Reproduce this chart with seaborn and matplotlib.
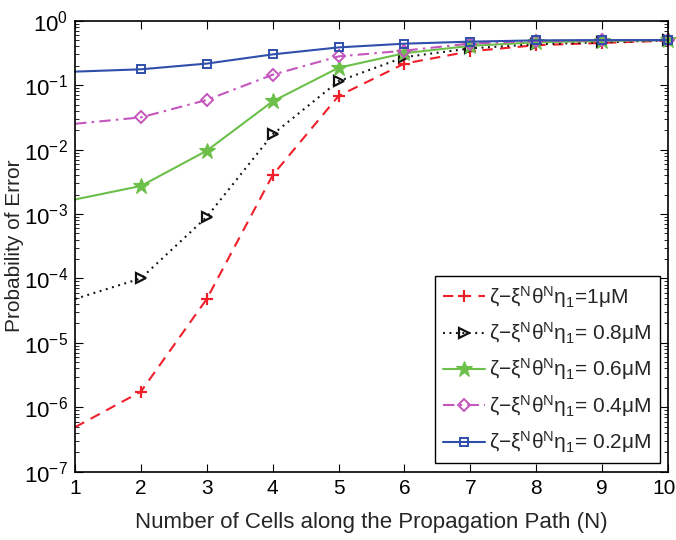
import numpy as np
import pandas as pd
import seaborn as sns
import matplotlib
matplotlib.use("Agg")
import matplotlib.pyplot as plt
from matplotlib.ticker import LogLocator, NullFormatter
from matplotlib.transforms import ScaledTranslation

# ---- data ----
N = [1, 2, 3, 4, 5, 6, 7, 8, 9, 10]
p_1uM = [4.9e-7, 1.75e-6, 4.8e-5, 4.0e-3, 0.068, 0.216, 0.335, 0.417, 0.452, 0.49]
p_08uM = [4.8e-5, 1.0e-4, 9.0e-4, 0.0172, 0.115, 0.272, 0.372, 0.432, 0.462, 0.495]
p_06uM = [1.68e-3, 2.72e-3, 9.6e-3, 0.056, 0.186, 0.313, 0.407, 0.462, 0.484, 0.50]
p_04uM = [0.0251, 0.0316, 0.0589, 0.145, 0.279, 0.343, 0.442, 0.484, 0.495, 0.50]
p_02uM = [0.162, 0.176, 0.216, 0.30, 0.385, 0.44, 0.473, 0.495, 0.50, 0.50]
labels = ["1μM", " 0.8μM", " 0.6μM", " 0.4μM", " 0.2μM"]
xlabel = "Number of Cells along the Propagation Path (N)"
ylabel = "Probability of Error"

sns.set_style("ticks")
plt.rcParams["font.family"] = ["Liberation Sans", "DejaVu Sans"]
plt.rcParams["mathtext.fontset"] = "custom"
plt.rcParams["mathtext.rm"] = "Liberation Sans"
plt.rcParams["mathtext.it"] = "Liberation Sans:italic"
plt.rcParams["mathtext.bf"] = "Liberation Sans:bold"

FS = 15

fig = plt.figure(figsize=(6.76, 5.40), dpi=100)
ax = fig.add_axes([75 / 676, 1 - 471.7 / 540, (668 - 75) / 676, (471.7 - 20.7) / 540])

series = [
    (p_1uM, labels[0], dict(color="#f0202a", linestyle=(0, (5, 3.5)), marker="+", ms=8, mew=1.6, mfc="#f0202a")),
    (p_08uM, labels[1], dict(color="#111111", linestyle=(0, (0.9, 2.2)), marker=">", ms=7, mew=1.6, mfc="none")),
    (p_06uM, labels[2], dict(color="#6cc04a", linestyle="-", marker="*", ms=12, mew=0.8, mfc="#6cc04a")),
    (p_04uM, labels[3], dict(color="#c456bd", linestyle=(0, (5.5, 2.5, 1.2, 2.5)), marker="D", ms=6, mew=1.4, mfc="none")),
    (p_02uM, labels[4], dict(color="#2f4faa", linestyle="-", marker="s", ms=6, mew=1.4, mfc="none")),
]

prefix = r"ζ−ξ$^{\mathrm{N}}$θ$^{\mathrm{N}}$η$_{\mathrm{1}}$="
for vals, lab, st in series:
    df = pd.DataFrame({"N": N, "P": vals})
    sns.lineplot(data=df, x="N", y="P", ax=ax, label=prefix + lab,
                 color=st["color"], linestyle=st["linestyle"], marker=st["marker"],
                 markersize=st["ms"], markeredgewidth=st["mew"],
                 markerfacecolor=st["mfc"], markeredgecolor=st["color"],
                 markevery=slice(1, None), linewidth=1.5, clip_on=False)

ax.set_yscale("log")
ax.set_xlim(1, 10)
ax.set_ylim(1e-7, 1)
ax.set_xticks(N)
ax.set_yticks([10.0 ** k for k in range(-7, 1)])
ax.yaxis.set_minor_locator(LogLocator(base=10, subs=np.arange(2, 10), numticks=50))
ax.yaxis.set_minor_formatter(NullFormatter())

ax.set_xlabel(xlabel, fontsize=16, labelpad=10)
ax.set_ylabel(ylabel, fontsize=FS, labelpad=0)
ax.tick_params(which="both", direction="in", top=True, right=True, colors="black")
ax.tick_params(axis="x", labelsize=FS)
ax.tick_params(axis="y", labelsize=16)
ax.tick_params(which="major", length=6, width=0.8, pad=5)
ax.tick_params(which="minor", length=3, width=0.6)
for sp in ax.spines.values():
    sp.set_linewidth(1.2)
    sp.set_color("black")

# nudge the last x tick label so it stays inside the canvas
last = ax.xaxis.get_major_ticks()[-1].label1
last.set_transform(last.get_transform() + ScaledTranslation(-4 / 100, 0, fig.dpi_scale_trans))

leg = ax.legend(loc="lower right", fontsize=FS, frameon=True, fancybox=False,
                framealpha=1, edgecolor="black", borderaxespad=0.4,
                handlelength=2.0, handletextpad=0.2, labelspacing=0.5,
                borderpad=0.4, numpoints=1)
leg.get_frame().set_linewidth(1.0)

fig.savefig("out.png", dpi=100)
